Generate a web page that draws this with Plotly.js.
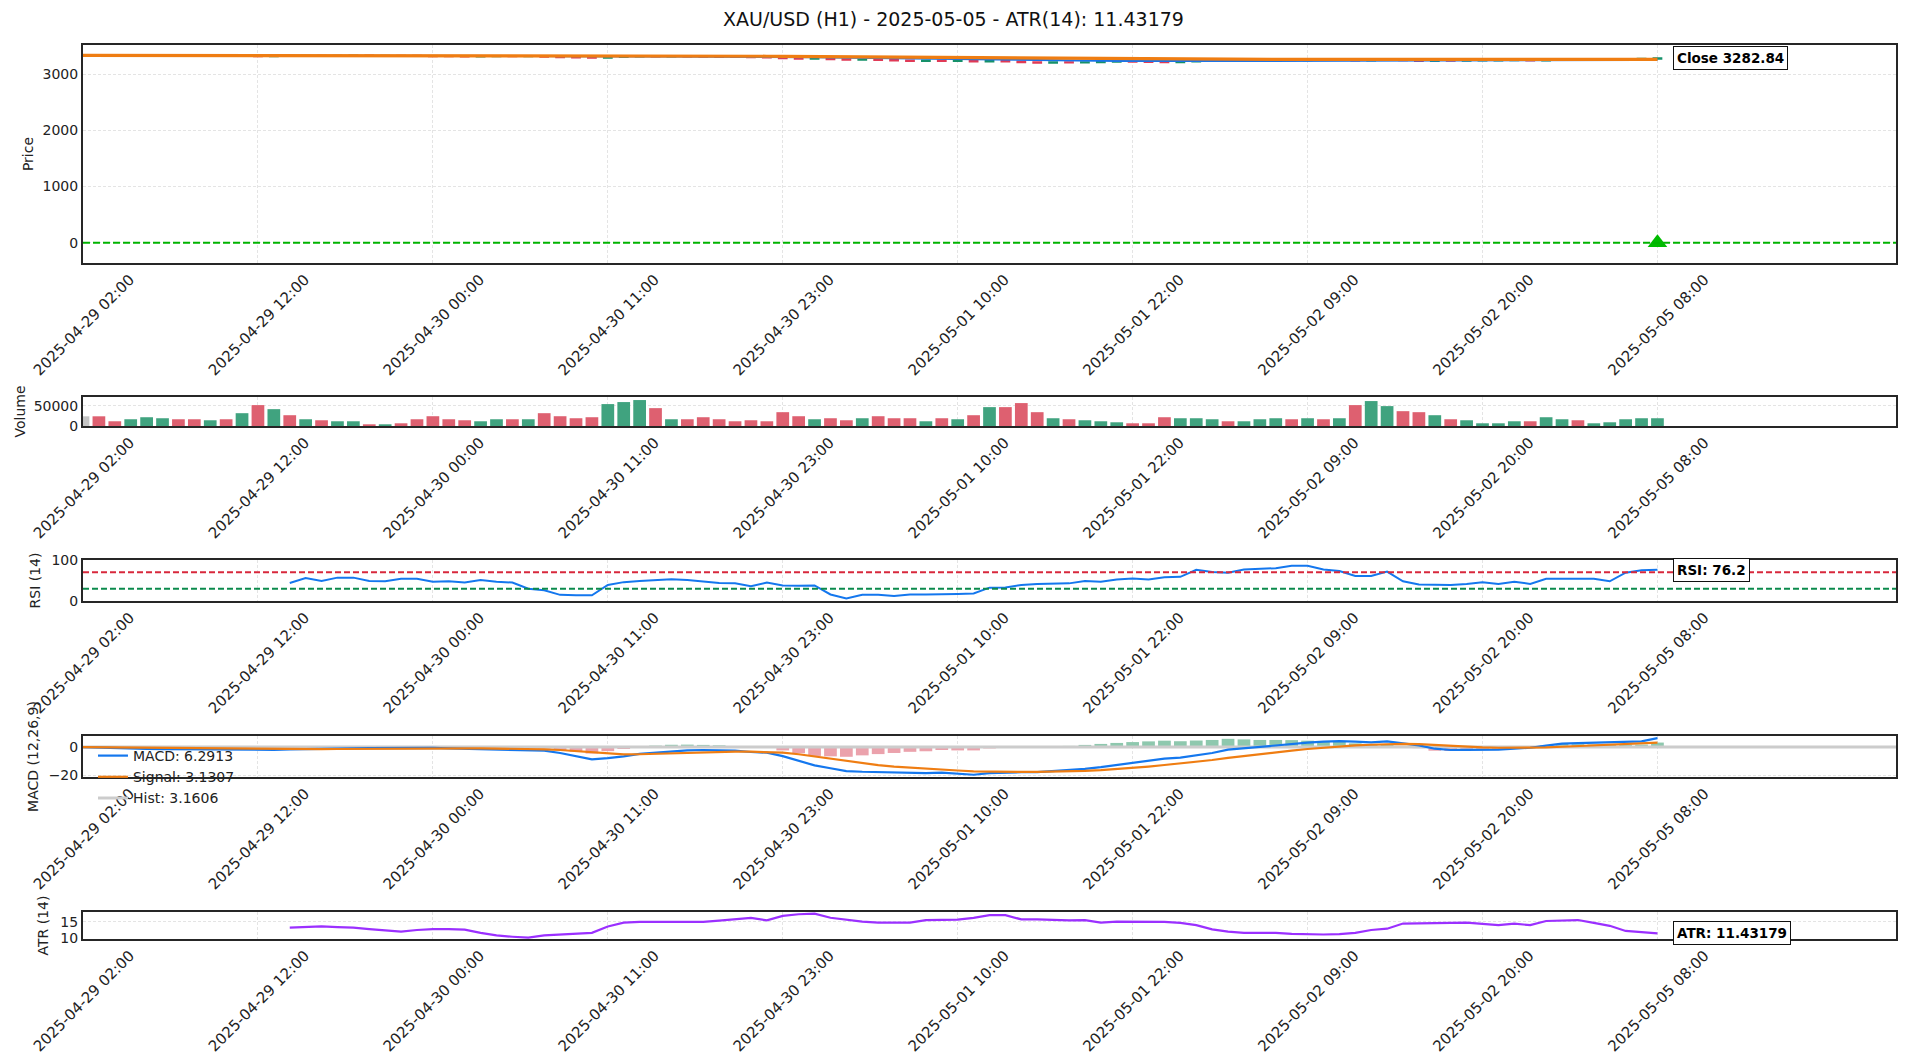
<!DOCTYPE html>
<html><head><meta charset="utf-8">
<script src="https://cdn.plot.ly/plotly-3.0.1.min.js"></script>
<style>html,body{margin:0;padding:0;background:#fff}#chart{width:1907px;height:1061px}</style>
</head><body><div id="chart"></div>
<script>
// ---------------- DATA ----------------
const chartTitle = 'XAU/USD (H1) - 2025-05-05 - ATR(14): 11.43179';
const tickIdx = [0, 11, 22, 33, 44, 55, 66, 77, 88, 99];
const tickLabels = ['2025-04-29 02:00','2025-04-29 12:00','2025-04-30 00:00','2025-04-30 11:00','2025-04-30 23:00',
  '2025-05-01 10:00','2025-05-01 22:00','2025-05-02 09:00','2025-05-02 20:00','2025-05-05 08:00'];

const openP = [3337,3335,3330,3326,3329,3333,3336,3331,3327,3330,
  3326,3332,3322,3328,3324,3329,3327,3330,3332,3330,
  3331,3328,3325,3321,3319,3317,3320,3322,3319,3321,
  3310,3302,3297,3294,3308,3316,3321,3314,3318,3315,
  3312,3309,3306,3302,3298,3284,3278,3283,3268,3258,
  3263,3252,3244,3238,3243,3235,3240,3228,3240,3225,
  3212,3205,3215,3210,3216,3221,3225,3222,3219,3214,
  3228,3235,3240,3237,3243,3248,3255,3251,3258,3252,
  3258,3246,3262,3268,3250,3238,3242,3239,3243,3246,
  3248,3252,3246,3255,3258,3255,3258,3266,3272,3278];
const highP = [3340,3338,3333,3332,3336,3340,3338,3334,3333,3332,
  3336,3335,3331,3330,3332,3331,3333,3335,3334,3333,
  3333,3330,3327,3323,3321,3323,3325,3324,3324,3323,
  3313,3305,3300,3311,3319,3325,3323,3321,3320,3317,
  3314,3311,3308,3304,3300,3288,3287,3285,3271,3266,
  3265,3255,3247,3246,3245,3243,3242,3245,3243,3228,
  3215,3218,3217,3219,3224,3228,3227,3224,3221,3231,
  3238,3243,3242,3246,3250,3258,3257,3261,3260,3261,
  3260,3266,3272,3270,3252,3245,3244,3246,3248,3250,
  3254,3254,3257,3260,3260,3261,3268,3275,3281,3285];
const lowP = [3331,3327,3323,3324,3327,3331,3328,3324,3325,3323,
  3324,3318,3320,3321,3322,3325,3325,3328,3328,3328,
  3326,3323,3319,3317,3314,3315,3318,3317,3317,3307,
  3299,3293,3290,3292,3306,3314,3311,3312,3312,3310,
  3307,3304,3299,3295,3280,3274,3276,3264,3254,3256,
  3248,3241,3235,3236,3232,3233,3224,3226,3221,3208,
  3202,3203,3207,3208,3214,3219,3219,3217,3211,3212,
  3226,3233,3234,3235,3241,3246,3248,3249,3249,3250,
  3242,3244,3259,3246,3234,3236,3236,3237,3241,3244,
  3246,3243,3244,3253,3253,3253,3256,3264,3270,3276];
const closeP = [3335,3330,3326,3329,3333,3336,3331,3327,3330,3326,
  3332,3322,3328,3324,3329,3327,3330,3332,3330,3331,
  3328,3325,3321,3319,3317,3320,3322,3319,3321,3310,
  3302,3297,3294,3308,3316,3321,3314,3318,3315,3312,
  3309,3306,3302,3298,3284,3278,3283,3268,3258,3263,
  3252,3244,3238,3243,3235,3240,3228,3240,3225,3212,
  3205,3215,3210,3216,3221,3225,3222,3219,3214,3228,
  3235,3240,3237,3243,3248,3255,3251,3258,3252,3258,
  3246,3262,3268,3250,3238,3242,3239,3243,3246,3248,
  3252,3246,3255,3258,3255,3258,3266,3272,3278,3282.84];
const volume = [24000,24000,11700,16700,21700,19200,16700,16700,14200,16700,
  31700,51700,41700,26700,16700,14200,11700,11700,4200,4200,
  6700,16700,24200,16700,14200,11700,16700,16700,16700,31700,
  24200,19200,21700,54200,59200,64200,44200,16700,16700,21700,
  16700,11700,14200,11700,34200,24200,16700,19200,14200,19200,
  24200,19200,19200,11700,19200,16700,26700,46700,46700,56700,
  34200,19200,16700,14200,11700,9200,6700,6700,21700,19200,
  19200,16700,11700,11700,16700,19200,16700,19200,16700,19200,
  51700,61700,49200,36700,34200,26700,16700,14200,6700,6700,
  11700,11700,21700,16700,14200,6700,9200,16700,19200,19200];
const emaFast = [3335,3335,3334,3333,3333,3333,3333,3333,3332,3332,
  3332,3331,3331,3330,3330,3330,3330,3330,3330,3330,
  3330,3329,3328,3327,3327,3326,3326,3325,3325,3323,
  3321,3318,3316,3315,3315,3316,3316,3316,3316,3316,
  3315,3314,3313,3312,3309,3306,3304,3300,3296,3293,
  3289,3285,3280,3277,3273,3270,3266,3263,3259,3255,
  3250,3247,3243,3241,3239,3237,3236,3234,3232,3232,
  3232,3233,3233,3234,3235,3237,3238,3240,3241,3243,
  3243,3245,3247,3247,3246,3246,3245,3245,3245,3245,
  3246,3246,3247,3248,3248,3249,3251,3253,3256,3259];
const emaSlow = [3335,3335,3334,3334,3334,3334,3334,3334,3333,3333,
  3333,3333,3333,3333,3333,3332,3332,3332,3332,3332,
  3332,3332,3331,3331,3331,3330,3330,3330,3330,3329,
  3328,3327,3326,3326,3325,3325,3325,3325,3324,3324,
  3323,3322,3322,3321,3319,3317,3316,3314,3312,3310,
  3308,3305,3303,3301,3299,3297,3294,3292,3290,3287,
  3284,3282,3279,3277,3275,3274,3272,3270,3268,3267,
  3266,3266,3265,3265,3265,3265,3265,3265,3265,3265,
  3264,3264,3265,3264,3264,3263,3263,3262,3262,3262,
  3262,3262,3262,3262,3262,3262,3263,3263,3264,3265];
const signalLevel = 0;
const rsi = [null,null,null,null,null,null,null,null,null,null,null,null,null,
  44,56,49,57,57,49,48,54,54,47,48,45,51,47,45,30,26,15,14,14,39,46,49,51,53,51,47,44,43,36,45,38,37,38,
  16,6,15,15,12.5,16,16,16,17,18.3,32.5,33,39,41.7,42.5,43,49,46.7,52.5,55,52.5,58,59,76,71,69,77,79,80,86,86,
  77,73.3,60.8,60.8,71.7,48,40,39.5,39,41.7,46,41.7,46.7,41.7,54,54,54,54,48,69,75,76.2];
const rsiUpper = 70, rsiLower = 30;
const macd = [0,-0.4,-0.9,-1.1,-1.3,-1.5,-1.6,-1.8,-1.9,-2.0,
  -2.1,-2.1,-2.0,-1.6,-1.3,-1.1,-1.0,-0.9,-0.8,-0.7,
  -0.6,-0.5,-0.6,-0.9,-1.2,-1.4,-1.6,-1.8,-1.9,-2.6,
  -4.2,-6.2,-8.7,-7.8,-6.6,-4.8,-3.8,-2.8,-2.3,-2.1,
  -2.1,-2.5,-3.5,-4.0,-6.4,-9.5,-13.0,-15.0,-17.0,-17.5,
  -17.8,-18.1,-18.1,-18.5,-18.1,-19.0,-19.6,-18.5,-17.9,-17.8,
  -17.7,-17.1,-16.5,-15.4,-14.2,-12.8,-11.3,-9.8,-8.2,-7.5,
  -5.8,-4.2,-1.9,-0.9,0.0,1.2,2.4,3.1,3.8,4.2,
  3.8,3.3,4.0,2.6,1.2,-1.2,-2.1,-2.0,-1.9,-1.9,
  -1.2,-0.5,1.0,2.4,2.7,2.9,3.1,3.5,4.0,6.2913];
const macdSignal = [0,-0.1,-0.3,-0.4,-0.6,-0.8,-0.9,-1.1,-1.2,-1.4,
  -1.5,-1.6,-1.7,-1.7,-1.6,-1.5,-1.4,-1.3,-1.2,-1.1,
  -1.0,-0.9,-0.8,-0.8,-0.9,-1.0,-1.1,-1.2,-1.4,-1.6,
  -2.1,-2.9,-4.1,-4.9,-5.2,-5.1,-4.8,-4.4,-4.0,-3.6,
  -3.3,-3.2,-3.3,-3.4,-4.0,-5.1,-6.7,-8.4,-10.1,-11.6,
  -12.8,-13.9,-14.7,-15.5,-16.0,-16.6,-17.2,-17.5,-17.6,-17.6,
  -17.6,-17.5,-17.3,-16.9,-16.4,-15.7,-14.8,-13.8,-12.7,-11.6,
  -10.4,-9.2,-7.7,-6.3,-5.0,-3.8,-2.5,-1.4,-0.4,0.5,
  1.2,1.6,2.1,2.2,2.0,1.4,0.7,0.2,-0.2,-0.5,
  -0.6,-0.6,-0.3,0.2,0.7,1.1,1.5,1.9,2.3,3.1307];
const macdHist = [0,-0.3,-0.6,-0.7,-0.7,-0.7,-0.7,-0.7,-0.7,-0.6,
  -0.6,-0.5,-0.3,0.1,0.3,0.4,0.4,0.4,0.4,0.4,
  0.4,0.4,0.2,-0.1,-0.3,-0.4,-0.5,-0.6,-0.5,-1.0,
  -2.1,-3.3,-4.6,-2.9,-1.4,0.3,1.0,1.6,1.7,1.5,
  1.2,0.7,-0.2,-0.6,-2.4,-4.4,-6.3,-6.6,-6.9,-5.9,
  -5.0,-4.2,-3.4,-3.0,-2.1,-2.4,-2.4,-1.0,-0.3,-0.2,
  -0.1,0.4,0.8,1.5,2.2,2.9,3.5,4.0,4.5,4.1,
  4.6,5.0,5.8,5.4,5.0,5.0,4.9,4.5,4.2,3.7,
  2.6,1.7,1.9,0.4,-0.8,-2.6,-2.8,-2.2,-1.7,-1.4,
  -0.6,0.1,1.3,2.2,2.0,1.8,1.6,1.6,1.7,3.1606];
const atr = [null,null,null,null,null,null,null,null,null,null,null,null,null,
  13.25,13.4,13.6,13.4,13.25,12.8,12.4,12.0,12.5,12.8,12.8,12.6,11.6,10.8,10.4,10.1,10.8,11.0,11.2,11.6,
  13.6,14.8,15.0,15.0,15.0,15.0,15.0,15.4,15.8,16.3,15.5,16.9,17.4,17.6,16.3,15.6,15.1,14.8,14.8,14.8,
  15.6,15.7,15.7,16.3,17.1,17.1,15.8,15.8,15.6,15.5,15.6,14.8,15.1,15.1,15.1,15.0,14.7,14.0,12.7,12.0,
  11.6,11.6,11.6,11.3,11.1,11.1,11.2,11.6,12.5,12.9,14.5,14.6,14.7,14.8,14.8,14.4,14.0,14.5,14.0,15.3,
  15.4,15.6,14.7,13.8,12.2,11.9,11.43179];

// ---------------- STYLE / LAYOUT ----------------
const W = 1907, H = 1061;
const M = {l: 83, r: 11, t: 45, b: 122};
const plotH = H - M.t - M.b;
function dom(top, bottom) { return [(H - M.b - bottom) / plotH, (H - M.b - top) / plotH]; }
const FONT = 'DejaVu Sans, Arial, sans-serif';
const xRange = [0, 114];
const idx = closeP.map((_, i) => i);
const last = closeP.length - 1;

const GREEN = '#40a37f', RED = '#de6070', GRAY = '#c4c4c4';
const volColors = closeP.map((c, i) => i === 0 ? GRAY : (c >= closeP[i - 1] ? GREEN : RED));
const histColors = macdHist.map(v => v >= 0 ? '#8ec8ae' : '#eba2ac');

const traces = [
  {type: 'candlestick', x: idx, open: openP, high: highP, low: lowP, close: closeP,
   xaxis: 'x', yaxis: 'y', showlegend: false, whiskerwidth: 0,
   increasing: {line: {color: '#16916a', width: 2}, fillcolor: '#16916a'},
   decreasing: {line: {color: '#e03a56', width: 2}, fillcolor: '#e03a56'}},
  {type: 'scatter', mode: 'lines', x: idx, y: emaFast, xaxis: 'x', yaxis: 'y', showlegend: false,
   line: {color: '#1a73e8', width: 2}},
  {type: 'scatter', mode: 'lines', x: idx, y: emaSlow, xaxis: 'x', yaxis: 'y', showlegend: false,
   line: {color: '#ef7d12', width: 3.2}},
  {type: 'scatter', mode: 'markers', x: [idx[last]], y: [signalLevel], xaxis: 'x', yaxis: 'y', showlegend: false,
   marker: {symbol: 'triangle-up', size: 17, color: '#00bb00'}},
  {type: 'bar', x: idx, y: volume, xaxis: 'x2', yaxis: 'y2', showlegend: false, width: 0.8,
   marker: {color: volColors, line: {width: 0}}},
  {type: 'scatter', mode: 'lines', x: idx, y: rsi, xaxis: 'x3', yaxis: 'y3', showlegend: false,
   line: {color: '#1477ee', width: 2}},
  {type: 'bar', x: idx, y: macdHist, xaxis: 'x4', yaxis: 'y4', showlegend: false, width: 0.8,
   marker: {color: histColors, line: {width: 0}}},
  {type: 'scatter', mode: 'lines', x: xRange, y: [0, 0], xaxis: 'x4', yaxis: 'y4',
   name: 'Hist: ' + macdHist[last].toFixed(4), legendrank: 3, line: {color: '#cccccc', width: 3}},
  {type: 'scatter', mode: 'lines', x: idx, y: macd, xaxis: 'x4', yaxis: 'y4',
   name: 'MACD: ' + macd[last].toFixed(4), legendrank: 1, line: {color: '#1477ee', width: 2.2}},
  {type: 'scatter', mode: 'lines', x: idx, y: macdSignal, xaxis: 'x4', yaxis: 'y4',
   name: 'Signal: ' + macdSignal[last].toFixed(4), legendrank: 2, line: {color: '#ef7d12', width: 2.2}},
  {type: 'scatter', mode: 'lines', x: idx, y: atr, xaxis: 'x5', yaxis: 'y5', showlegend: false,
   line: {color: '#9b30ff', width: 2.2}}
];

const gridC = '#e4e4e4';
function xAxis(anchor) {
  return {anchor: anchor, domain: [0, 1], range: xRange, tickmode: 'array', tickvals: tickIdx, ticktext: tickLabels,
    tickangle: -45, ticklabelshift: 47, ticks: '', showgrid: true, gridcolor: gridC, griddash: '3px,2px', gridwidth: 1,
    zeroline: false, showline: true, mirror: true, linecolor: '#262626', linewidth: 2,
    tickfont: {family: FONT, size: 15, color: '#222'}, rangeslider: {visible: false}, automargin: false, fixedrange: true};
}
function yAxis(anchor, domain, range, tickvals, title, standoff) {
  return {anchor: anchor, domain: domain, range: range, tickmode: 'array', tickvals: tickvals, tickformat: 'd', ticks: '',
    showgrid: true, gridcolor: gridC, griddash: '3px,2px', gridwidth: 1, zeroline: false,
    showline: true, mirror: true, linecolor: '#262626', linewidth: 2, automargin: false,
    tickfont: {family: FONT, size: 14, color: '#222'},
    title: {text: title, standoff: standoff, font: {family: FONT, size: 14, color: '#222'}}};
}

const boxAnn = (xa, ya, x, y, text) => ({xref: xa, yref: ya, x: x, y: y, text: text, showarrow: false,
  xanchor: 'left', yanchor: 'middle', bgcolor: '#ffffff', bordercolor: '#111', borderwidth: 1, borderpad: 3,
  font: {family: FONT, size: 13.5, color: '#000', weight: 'bold'}});

const layout = {
  width: W, height: H, margin: M, paper_bgcolor: '#fff', plot_bgcolor: '#fff', showlegend: true,
  title: {text: chartTitle, x: 0.5, xref: 'container', xanchor: 'center', y: 1 - 19.5 / H, yref: 'container', yanchor: 'middle',
    font: {family: FONT, size: 19, color: '#111'}},
  xaxis: xAxis('y'), xaxis2: xAxis('y2'), xaxis3: xAxis('y3'), xaxis4: xAxis('y4'), xaxis5: xAxis('y5'),
  yaxis: yAxis('x', dom(45, 263), [-361, 3521], [0, 1000, 2000, 3000], 'Price', 6),
  yaxis2: yAxis('x2', dom(397, 426), [0, 71750], [0, 50000], 'Volume', 5),
  yaxis3: yAxis('x3', dom(560, 601), [0, 100], [0, 100], 'RSI (14)', 8),
  yaxis4: yAxis('x4', dom(736, 777), [-21.2, 7.8], [-20, 0], 'MACD (12,26,9)', 7),
  yaxis5: yAxis('x5', dom(912, 939), [9.7, 18.1], [10, 15], 'ATR (14)', 8),
  legend: {x: 0.0055, xanchor: 'left', y: dom(740, 740)[0], yanchor: 'top', bgcolor: 'rgba(0,0,0,0)',
    borderwidth: 0, font: {family: FONT, size: 14, color: '#222'}, tracegroupgap: 0, itemwidth: 30},
  shapes: [
    {type: 'line', xref: 'x domain', x0: 0, x1: 1, yref: 'y', y0: signalLevel, y1: signalLevel,
     line: {color: '#00b400', width: 2, dash: '7px,3px'}},
    {type: 'line', xref: 'x3 domain', x0: 0, x1: 1, yref: 'y3', y0: rsiUpper, y1: rsiUpper,
     line: {color: '#d8283c', width: 2, dash: '6px,3px'}},
    {type: 'line', xref: 'x3 domain', x0: 0, x1: 1, yref: 'y3', y0: rsiLower, y1: rsiLower,
     line: {color: '#0b8a4c', width: 2, dash: '6px,3px'}}
  ],
  annotations: [
    boxAnn('x', 'y', idx[last] + 1, closeP[last], 'Close ' + closeP[last].toFixed(2)),
    boxAnn('x3', 'y3', idx[last] + 1, rsi[last], 'RSI: ' + rsi[last].toFixed(1)),
    boxAnn('x5', 'y5', idx[last] + 1, atr[last], 'ATR: ' + atr[last].toFixed(5))
  ]
};

Plotly.newPlot('chart', traces, layout, {staticPlot: true, displayModeBar: false});
</script>
</body></html>
